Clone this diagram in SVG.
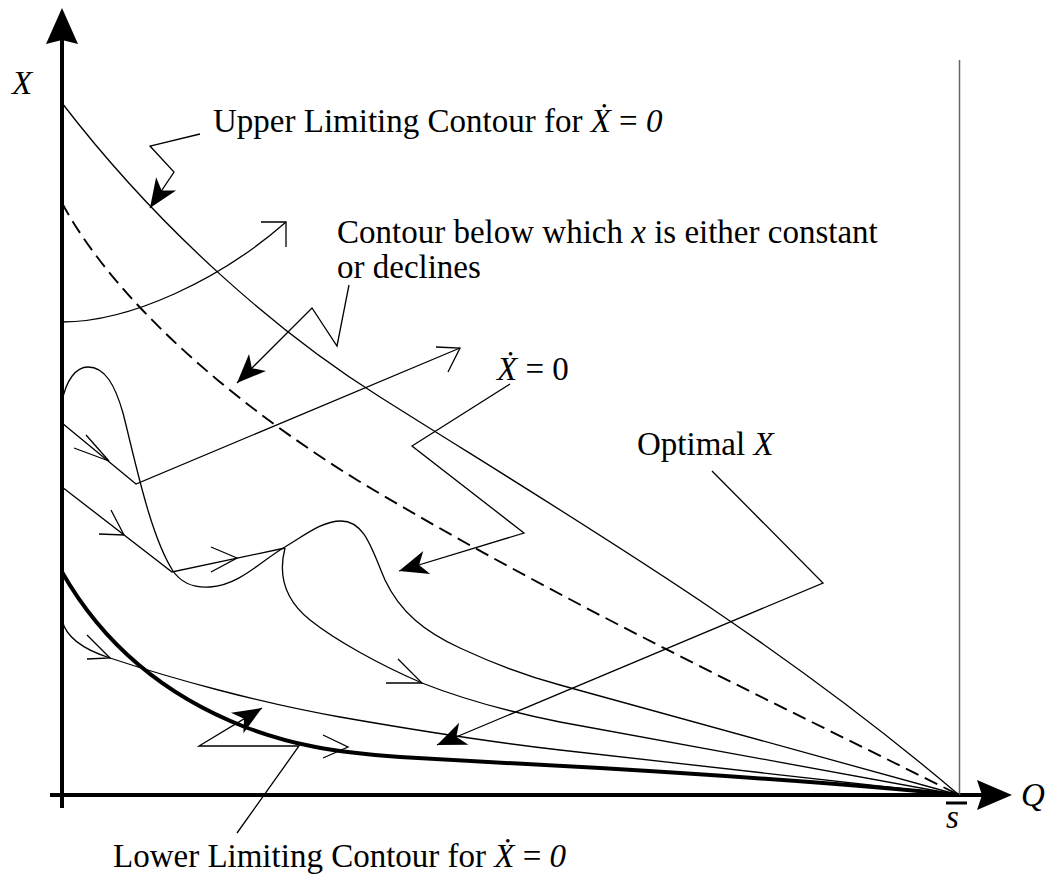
<svg xmlns="http://www.w3.org/2000/svg" width="1051" height="880" viewBox="0 0 1051 880">
<style>
 .t{font-family:"Liberation Serif","Times New Roman",serif;font-size:33px;fill:#000}
 .i{font-style:italic}
 .thin{fill:none;stroke:#000;stroke-width:1.3}
 .dash{fill:none;stroke:#000;stroke-width:1.9;stroke-dasharray:14 7}
 .thick{fill:none;stroke:#000;stroke-width:4}
 .axis{fill:none;stroke:#000;stroke-width:4}
 .lead{fill:none;stroke:#000;stroke-width:1.3;marker-end:url(#ah)}
 .barb{fill:none;stroke:#000;stroke-width:1.3}
 .head{fill:#000;stroke:none}
</style>
<defs>
 <marker id="ah" viewBox="-31 -13 33 26" refX="0" refY="0" markerWidth="33" markerHeight="26" markerUnits="userSpaceOnUse" orient="auto">
  <path d="M0,0 L-29,-12 L-21,0 L-29,12 Z" fill="#000"/>
 </marker>
</defs>
<rect width="1051" height="880" fill="#fff"/>

<g id="axes">
 <line class="axis" x1="62" y1="38" x2="62" y2="808"/>
 <path class="head" d="M62,8 L78,44 L62,40 L46,44 Z"/>
 <line class="axis" x1="50" y1="795" x2="985" y2="795"/>
 <path class="head" d="M1012,795 L977,780 L982,795 L977,810 Z"/>
 <line x1="959.5" y1="60" x2="959.5" y2="795" stroke="#666" stroke-width="1.5"/>
 <line x1="946" y1="803" x2="967" y2="803" stroke="#000" stroke-width="3"/>
</g>

<g id="axis-labels">
 <text class="t i" x="12" y="94">X</text>
 <text class="t i" x="1021" y="806">Q</text>
 <text class="t i" x="946" y="828">s</text>
</g>

<g id="connectors">
 <path class="thin" d="M62,103 C162,233 280,334 380,397 C570,517 769,633 959,795"/>
 <path class="dash" d="M62,203 C120,310 247,412 357,480 C557,600 759,695 959,795"/>
 <path class="thin" d="M62,322 C130,322 220,280 286,222"/>
 <polyline class="barb" points="261,222 286,222 286,247"/>
 <polyline class="thin" points="62,423 136,484 460,348"/>
 <polyline class="barb" points="86,435 109,461 74,448"/>
 <polyline class="barb" points="436,347 460,348 448,372"/>
 <path class="thin" d="M62,402 C66,380 76,367 88,367 C105,367 115,385 123,413 C135,460 150,535 173,571 C182,584 195,588 210,587 C240,585 262,560 285,547 C305,535 322,521 341,521 C365,521 372,550 385,580 C400,612 425,632 460,648 C490,662 530,677 560,685 L959,795"/>
 <polyline class="thin" points="62,487 172,572 285,548"/>
 <polyline class="barb" points="111,510 124,535 99,534"/>
 <polyline class="barb" points="211,547 237,558 211,572"/>
 <path class="thin" d="M285,548 C278,575 285,600 310,620 C335,640 380,665 422,683 C470,702 520,714 560,722 L959,795"/>
 <polyline class="barb" points="398,659 422,683 386,683"/>
 <path class="thin" d="M62,620 C66,638 85,650 110,658 C170,678 260,703 340,717 C420,731 490,742 560,750 L959,795"/>
 <polyline class="barb" points="87,635 110,658 87,659"/>
 <path class="thick" d="M62,572 C95,630 150,690 245,727 C290,744 330,752 400,757 C480,762 530,764 600,768 C750,777 880,787 959,795"/>
 <polyline class="barb" points="323,735 348,747 323,758"/>
 <polyline class="lead" points="200,134 150,146 174,172 150,208"/>
 <polyline class="lead" points="349,285 337,346 312,308 237,383"/>
 <polyline class="lead" points="510,384 412,446 524,533 399,571"/>
 <polyline class="lead" points="712,471 823,583 437,745"/>
 <polyline class="lead" points="237,833 299,746 199,746 262,708"/>
</g>

<g id="label-upper">
 <text class="t" x="213" y="132">Upper Limiting Contour for <tspan class="i">X&#x307;</tspan> = <tspan class="i">0</tspan></text>
</g>
<g id="label-contour-below">
 <text class="t" x="337" y="243">Contour below which <tspan class="i">x</tspan> is either constant</text>
 <text class="t" x="337" y="278">or declines</text>
</g>
<g id="label-xdot">
 <text class="t" x="497" y="380"><tspan class="i">X&#x307;</tspan> = 0</text>
</g>
<g id="label-optimal">
 <text class="t" x="637" y="455">Optimal <tspan class="i">X</tspan></text>
</g>
<g id="label-lower">
 <text class="t" x="113" y="867">Lower Limiting Contour for <tspan class="i">X&#x307;</tspan> = <tspan class="i">0</tspan></text>
</g>
</svg>
